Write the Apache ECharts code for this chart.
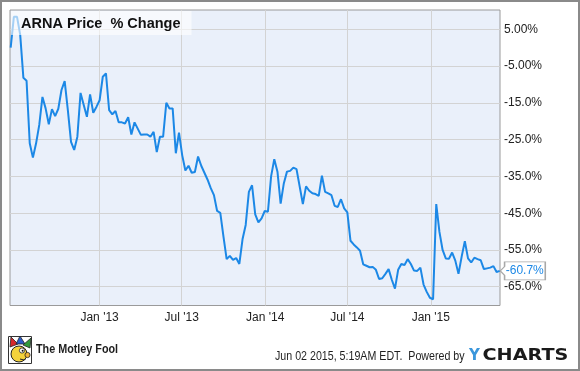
<!DOCTYPE html>
<html><head><meta charset="utf-8">
<script src="https://cdn.jsdelivr.net/npm/echarts@6/dist/echarts.min.js"></script>
<style>html,body{margin:0;padding:0;background:#fff}#c{width:580px;height:371px}</style>
</head><body><div id="c"></div>
<script>
// ---- data ----
const seriesName = 'ARNA Price  % Change';
const startDate = [2012, 5, 19];            // first weekly observation (UTC y, m0, d)
const weekIdx = [
  0,1,2,3,4,5,6,7,8,9,10,11,12,13,14,15,16,17,18,19,20,21,22,23,24,25,26,27,28,29,30,
  31,32,33,34,35,36,37,38,39,41,42,43,44,45,46,47,48,49,50,51,52,53,54,55,56,57,58,59,60,
  61,62,63,64,65,66,67,68,69,70,71,72,73,74,75,76,77,78,79,80,81,82,83,84,85,86,87,88,89,90,
  92,93,94,95,96,97,98,99,100,101,102,103,104,105,106,107,108,109,110,111,112,113,114,115,116,117,118,119,120,
  121,122,123,124,125,126,127,128,129,130,131,132,133,134,135,136,137,138,139,140,141,142,143,144,145,146,147,148,149,150,
  151,152,153,154
];
const pctChange = [
  0,8.4,8.4,3.5,-8.2,-9.0,-26.0,-29.9,-26.0,-21.0,-13.4,-16.5,-20.8,-16.7,-18.6,-16.6,-11.5,-9.1,-17.0,-25.6,-27.8,-24.2,-12.3,-15.6,-18.8,-12.7,-17.7,-16.1,-14.3,-7.9,-7.0,
  -17.0,-18.1,-17.2,-20.3,-20.3,-20.6,-18.9,-23.6,-20.3,-23.7,-23.6,-23.6,-24.2,-22.9,-28.4,-24.2,-24.2,-15.0,-16.5,-16.5,-28.7,-23.1,-29.2,-33.4,-32.1,-34.0,-33.8,-29.6,-32.1,
  -34.0,-35.9,-38.2,-40.1,-44.4,-44.9,-51.4,-57.5,-56.6,-57.7,-57.2,-58.8,-52.1,-48.2,-39.2,-37.4,-45.3,-47.5,-46.4,-44.4,-44.6,-35.0,-30.3,-33.7,-42.4,-36.9,-33.7,-33.5,-32.6,-33.0,
  -42.5,-37.7,-38.9,-39.6,-39.8,-40.3,-34.8,-39.2,-39.6,-40.1,-43.0,-43.3,-41.2,-43.7,-44.8,-52.5,-53.5,-54.3,-55.2,-58.9,-59.3,-59.7,-59.6,-60.4,-62.9,-62.7,-61.5,-60.2,-63.1,
  -65.5,-60.4,-58.8,-59.1,-57.5,-58.8,-60.6,-60.7,-59.8,-64.4,-66.4,-68.0,-68.4,-42.5,-50.1,-55.0,-57.3,-57.4,-55.7,-57.9,-61.5,-56.8,-52.6,-57.3,-58.4,-57.1,-57.5,-57.8,-60.2,-60.0,
  -59.8,-59.4,-61.0,-60.7
];
const yTicks = [-65, -55, -45, -35, -25, -15, -5, 5];
const xTicks = [[2013,0,1],[2013,6,1],[2014,0,1],[2014,6,1],[2015,0,1]];
const monthNames = ['Jan','Feb','Mar','Apr','May','Jun','Jul','Aug','Sep','Oct','Nov','Dec'];
const stampText = 'Jun 02 2015, 5:19AM EDT.  Powered by';
const brandText = 'The Motley Fool';

// ---- build ----
const DAY = 86400000;
const t0 = Date.UTC(startDate[0], startDate[1], startDate[2]);
const seriesData = weekIdx.map((w, i) => [t0 + w * 7 * DAY, pctChange[i]]);
const xTickVals = xTicks.map(d => Date.UTC(d[0], d[1], d[2]));
const last = seriesData[seriesData.length - 1];
const LINE = '#1c88e6';

const chart = echarts.init(document.getElementById('c'), null, {renderer: 'canvas'});
chart.setOption({
  animation: false,
  backgroundColor: '#fff',
  title: {
    text: seriesName,
    left: 11, top: 11,
    padding: [5, 11, 4, 10],
    backgroundColor: 'rgba(255,255,255,0.6)',
    textStyle: {fontFamily: 'Liberation Sans, Arial, sans-serif', fontWeight: 'bold', fontSize: 14.5, color: '#111'}
  },
  grid: {
    left: 10, top: 10, right: 80, bottom: 65.5,
    show: true, backgroundColor: '#eaf0fa', borderColor: '#9a9a9a', borderWidth: 1
  },
  xAxis: {
    type: 'value',
    min: t0 - 1.5 * DAY,
    max: t0 + 1078.5 * DAY,
    axisLine: {show: false},
    axisTick: {show: false, customValues: xTickVals},
    splitLine: {show: true, lineStyle: {color: '#d3d3d3', width: 1}},
    axisLabel: {
      customValues: xTickVals,
      margin: 6,
      fontFamily: 'Liberation Sans, Arial, sans-serif', fontSize: 12, color: '#222',
      formatter: v => { const d = new Date(v); return monthNames[d.getUTCMonth()] + " '" + String(d.getUTCFullYear()).slice(2); }
    }
  },
  yAxis: {
    type: 'value',
    position: 'right',
    min: -70.1, max: 10.25,
    axisLine: {show: false},
    axisTick: {show: false, customValues: yTicks},
    splitLine: {show: true, lineStyle: {color: '#d3d3d3', width: 1}},
    axisLabel: {
      customValues: yTicks,
      margin: 4,
      fontFamily: 'Liberation Sans, Arial, sans-serif', fontSize: 12, color: '#222',
      formatter: v => v.toPrecision(3) + '%'
    }
  },
  series: [{
    name: seriesName,
    type: 'line',
    data: seriesData,
    symbol: 'none',
    clip: false,
    lineStyle: {color: LINE, width: 2},
    itemStyle: {color: LINE},
    markPoint: {
      silent: true,
      symbol: 'path://M0,9 L4.3,4.6 L4.3,0 L45,0 L45,18 L4.3,18 L4.3,13.4 Z',
      symbolSize: [45, 18],
      symbolKeepAspect: false,
      symbolOffset: [23, 0],
      itemStyle: {color: '#fff', borderColor: '#a8a8a8', borderWidth: 1},
      label: {
        show: true, position: 'inside', offset: [2, 0],
        color: LINE, fontSize: 12, fontFamily: 'Liberation Sans, Arial, sans-serif',
        formatter: p => p.value.toFixed(1) + '%'
      },
      data: [{coord: last, value: last[1]}]
    }
  }],
  graphic: [
    {type: 'rect', shape: {x: 1, y: 1, width: 578, height: 369}, style: {fill: 'none', stroke: '#8a8a8a', lineWidth: 2}, z: 100},
    {type: 'group', z: 100, children: [
      {type: 'rect', shape: {x: 8.5, y: 336.5, width: 23, height: 27}, style: {fill: '#fff', stroke: '#333', lineWidth: 1}},
      {type: 'polygon', shape: {points: [[10,347],[11,337],[18,344]]}, style: {fill: '#d7262b', stroke: '#222', lineWidth: 0.8}},
      {type: 'polygon', shape: {points: [[16,344],[20,336],[25,344]]}, style: {fill: '#2a5bc8', stroke: '#222', lineWidth: 0.8}},
      {type: 'polygon', shape: {points: [[23,345],[31,338],[30,348]]}, style: {fill: '#2f9a3a', stroke: '#222', lineWidth: 0.8}},
      {type: 'circle', shape: {cx: 19, cy: 354, r: 8}, style: {fill: '#f4d23c', stroke: '#222', lineWidth: 1}},
      {type: 'circle', shape: {cx: 22, cy: 350.5, r: 2.6}, style: {fill: '#fff', stroke: '#222', lineWidth: 0.8}},
      {type: 'circle', shape: {cx: 22.6, cy: 350.8, r: 1}, style: {fill: '#111'}},
      {type: 'circle', shape: {cx: 27.5, cy: 355, r: 2.6}, style: {fill: '#f0b53a', stroke: '#222', lineWidth: 0.8}},
      {type: 'polyline', shape: {points: [[20,359],[24,360],[26,358.5]]}, style: {stroke: '#222', lineWidth: 1, fill: 'none'}}
    ]},
    {type: 'text', x: 36, y: 349, scaleX: 0.83, z: 100,
      style: {text: brandText, font: 'bold 13px "Liberation Sans", Arial, sans-serif', fill: '#1e1e1e', textVerticalAlign: 'middle'}},
    {type: 'text', x: 275, y: 356, scaleX: 0.82, z: 100,
      style: {text: stampText, font: '13px "Liberation Sans", Arial, sans-serif', fill: '#1e1e1e', textVerticalAlign: 'middle'}},
    {type: 'text', x: 469, y: 356.5, z: 100,
      style: {text: 'Y', font: 'bold 15px "DejaVu Sans", sans-serif', fill: '#3b97dc', textVerticalAlign: 'middle'}},
    {type: 'text', x: 482.5, y: 356.5, scaleX: 1.28, z: 100,
      style: {text: 'CHARTS', font: 'bold 15px "DejaVu Sans", sans-serif', fill: '#1a1a1a', textVerticalAlign: 'middle'}}
  ]
});
</script></body></html>
